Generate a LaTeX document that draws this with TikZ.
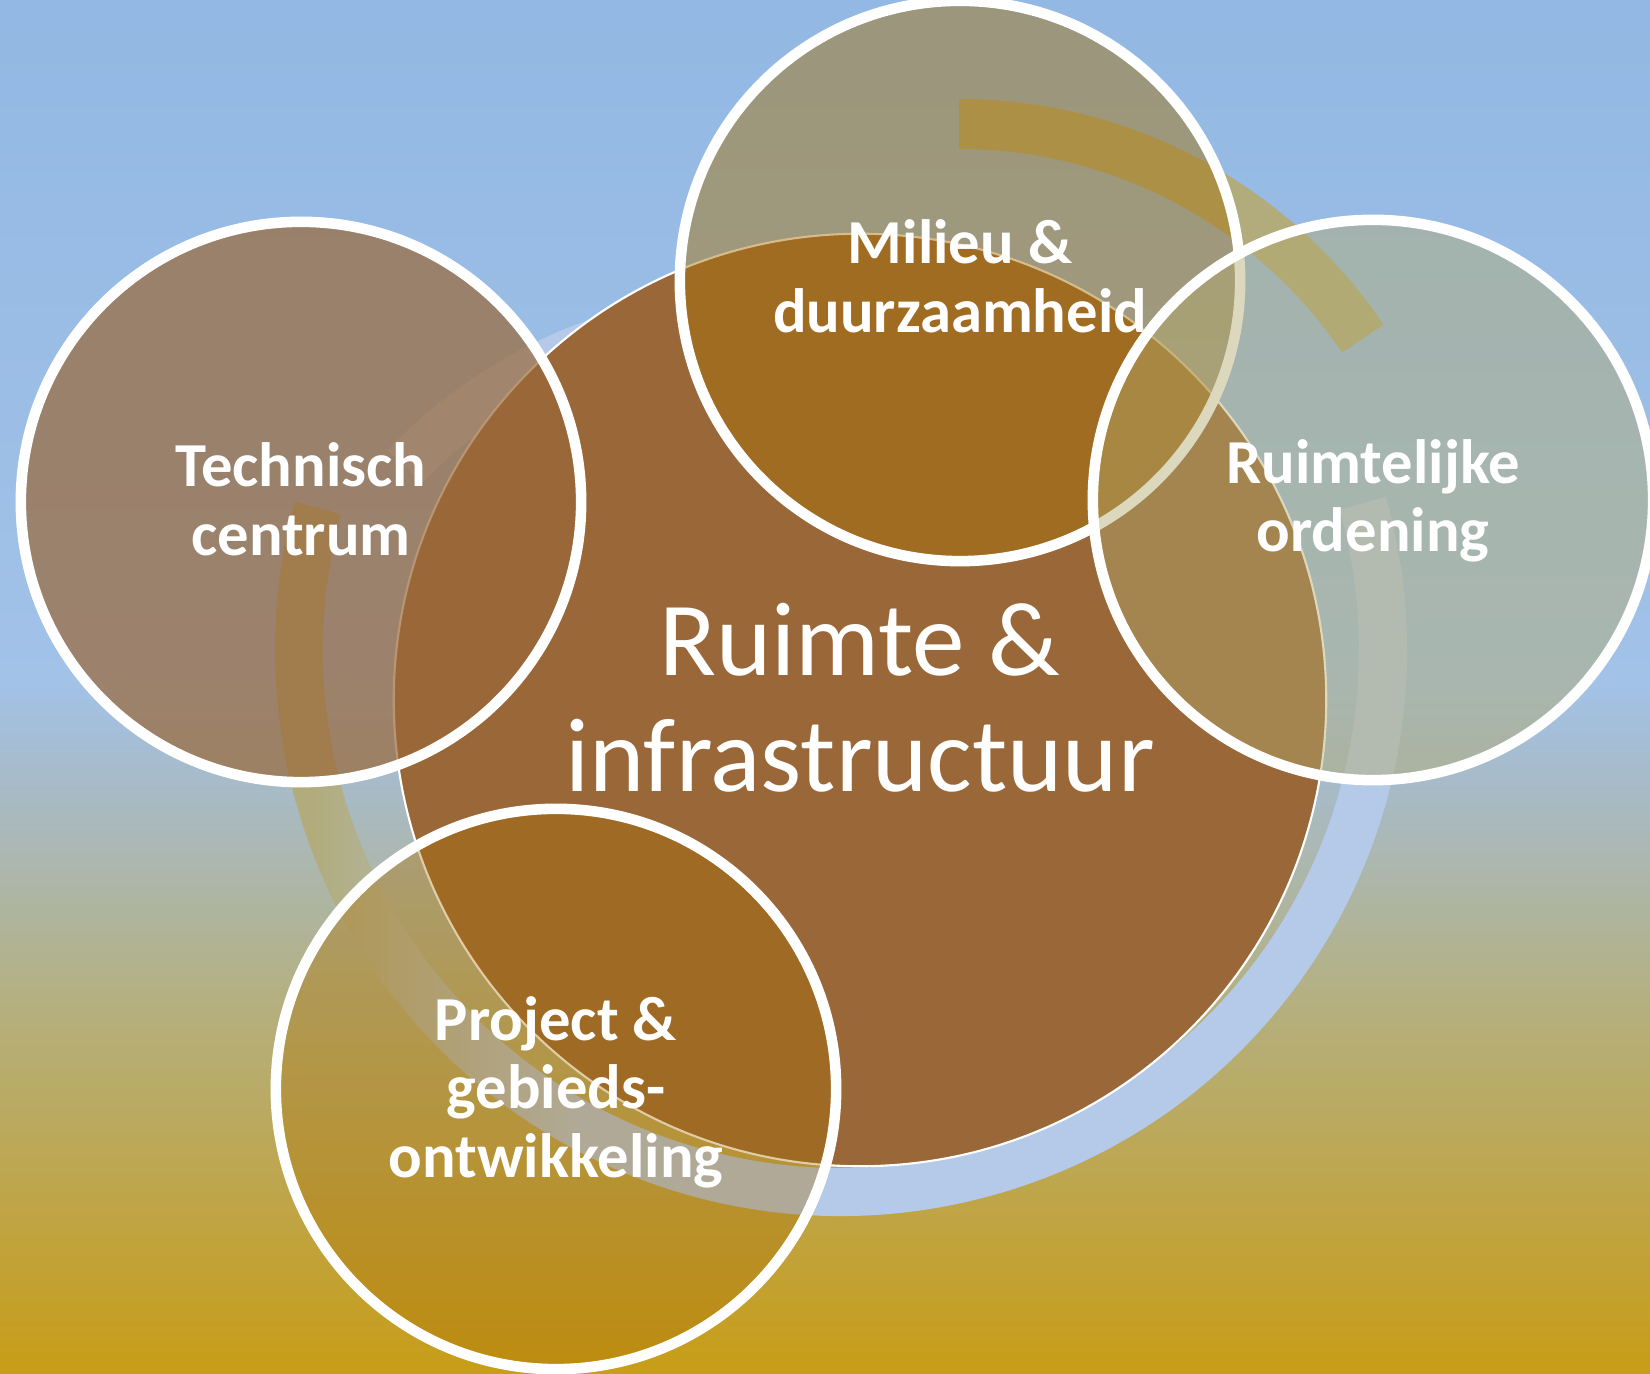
\documentclass[tikz,border=0pt]{standalone}
\usepackage{fontspec}
\setmainfont{Carlito}

% kleuren
\definecolor{bgTop}{RGB}{146,184,227}
\definecolor{bgLicht}{RGB}{162,194,232}
\definecolor{bgGrijs}{RGB}{168,186,195}
\definecolor{bgOlijf}{RGB}{180,176,128}
\definecolor{bgOker}{RGB}{191,165,72}
\definecolor{bgGoud}{RGB}{200,157,22}
\definecolor{ringTan}{RGB}{178,172,125}
\definecolor{ringBlauw}{RGB}{180,202,232}
\definecolor{kernBruin}{RGB}{154,104,56}
\definecolor{milieuKleur}{RGB}{167,113,9}
\definecolor{ordeningKleur}{RGB}{178,169,109}
\definecolor{projectKleur}{RGB}{171,110,0}

\pgfdeclareverticalshading{achtergrond}{100bp}{color(0bp)=(bgGoud);
	color(25bp)=(bgGoud); color(31.3bp)=(bgOker); color(38.6bp)=(bgOlijf);
	color(45.9bp)=(bgGrijs); color(50.3bp)=(bgLicht); color(75bp)=(bgTop);
	color(100bp)=(bgTop)}
\pgfdeclarehorizontalshading{ringverloop}{100bp}{color(0bp)=(ringTan);
	color(27bp)=(ringTan); color(38bp)=(ringBlauw); color(100bp)=(ringBlauw)}

\tikzset{
	kern/.style={circle, fill=kernBruin, draw=white, line width=0.6pt,
		minimum size=9.32cm, inner sep=0pt},
	satelliet/.style={circle, draw=white, line width=3pt, minimum size=5.6cm,
		inner sep=0pt},
	satlabel/.style={text=white, align=center, inner sep=0pt,
		font=\bfseries\fontsize{17.8pt}{19.5pt}\selectfont},
	kernlabel/.style={text=white, align=center, inner sep=0pt,
		font=\fontsize{29.9pt}{33pt}\selectfont}
}

\begin{document}
\begin{tikzpicture}[x=0.01cm, y=-0.01cm]
	\useasboundingbox (0,0) rectangle (1650,1374);
	\clip (0,0) rectangle (1650,1374);
	% achtergrond
	\shade[shading=achtergrond] (0,0) rectangle (1650,1374);
	% ringbogen
	\coordinate (ringC) at (841,650);
	\coordinate (boogC) at (959,611);
	\coordinate (flauwC) at (762,808);
	\shade[shading=ringverloop] ([shift={(-15.7:566)}]ringC)
		arc[start angle=-15.7, end angle=195.2, radius=566] -- ++(195.2:-48)
		arc[start angle=195.2, end angle=-15.7, radius=518] -- cycle;
	\fill[ringBlauw] ([shift={(-136.3:518)}]flauwC)
		arc[start angle=-136.3, end angle=-100, radius=518] -- ++(-100:-48)
		arc[start angle=-100, end angle=-136.3, radius=470] -- cycle;
	\fill[ringTan] ([shift={(-90:512)}]boogC)
		arc[start angle=-90, end angle=-34, radius=512] -- ++(-34:-50)
		arc[start angle=-34, end angle=-90, radius=462] -- cycle;
	% cirkels
	\node[kern] (infra) at (860,700) {};
	\node[satelliet, fill=milieuKleur, fill opacity=0.47] (milieu) at (960,281) {};
	\node[satelliet, fill=kernBruin, fill opacity=0.7] (technisch) at (301,502) {};
	\node[satelliet, fill=ordeningKleur, fill opacity=0.45] (ordening) at (1373,500) {};
	\node[satelliet, fill=projectKleur, fill opacity=0.35] (project) at (556,1089) {};
	% teksten
	\node[kernlabel] (infraTxt) at (860,698) {Ruimte \&\\infrastructuur};
	\node[satlabel] (milieuTxt) at (960,276) {Milieu \&\\duurzaamheid};
	\node[satlabel] (technischTxt) at (301,499) {Technisch\\centrum};
	\node[satlabel] (ordeningTxt) at (1373,501) {Ruimtelijke\\ordening};
	\node[satlabel] (projectTxt) at (556,1092) {Project \&\\gebieds-\\ontwikkeling};
\end{tikzpicture}
\end{document}
